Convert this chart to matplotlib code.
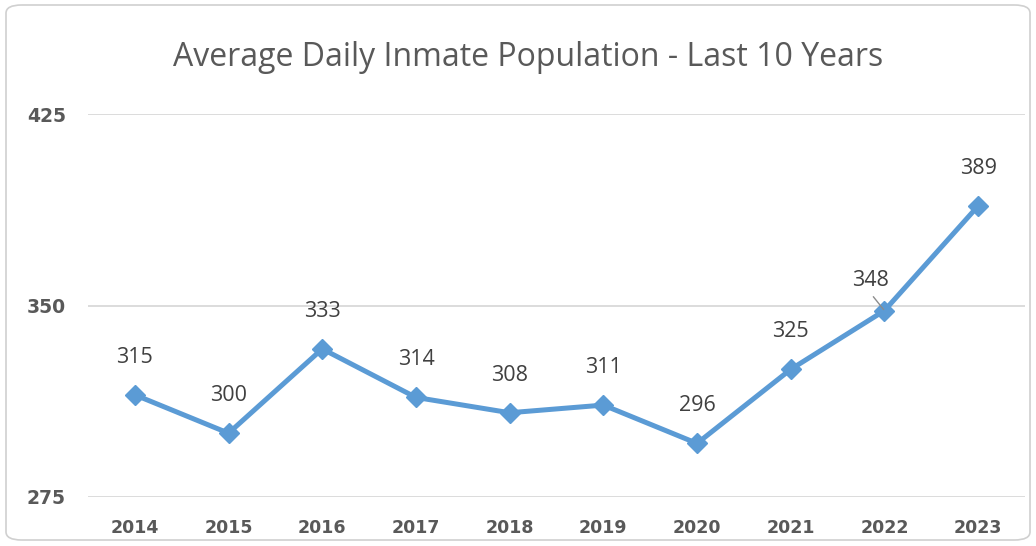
import matplotlib.pyplot as plt
from matplotlib.patches import FancyBboxPatch

years = ["2014", "2015", "2016", "2017", "2018", "2019", "2020", "2021", "2022", "2023"]
population = [315, 300, 333, 314, 308, 311, 296, 325, 348, 389]
yticks = [275, 350, 425]

line_col = "#5B9BD5"
text_col = "#595959"

fig = plt.figure(figsize=(10.36, 5.46), dpi=100)
ax = fig.add_axes([88 / 1036, 49 / 546, 937 / 1036, 383 / 546])

# chart border
border = FancyBboxPatch((6 / 1036, 6 / 546), 1024 / 1036, 535 / 546,
                        boxstyle="round,pad=0,rounding_size=0.015",
                        transform=fig.transFigure, fill=False,
                        edgecolor="#D0D0D0", linewidth=1.2, clip_on=False)
fig.patches.append(border)

x = range(len(years))
ax.plot(x, population, color=line_col, linewidth=3.6, marker="D",
        markersize=10, zorder=3)

for i, v in enumerate(population):
    if years[i] == "2022":
        ax.annotate(str(v), xy=(i, v), xytext=(-10, 22), textcoords="offset points",
                    ha="center", va="center", fontsize=15.5, color="#404040",
                    family="Open Sans")
        # leader line
        ax.annotate("", xy=(i, v), xytext=(-8, 10), textcoords="offset points",
                    arrowprops=dict(arrowstyle="-", color="#8C8C8C", lw=1,
                                    shrinkA=0, shrinkB=1), zorder=4)
    else:
        ax.annotate(str(v), xy=(i, v), xytext=(0, 27), textcoords="offset points",
                    ha="center", va="center", fontsize=15.5, color="#404040",
                    family="Open Sans")

ax.set_xlim(-0.5, len(years) - 0.5)
ax.set_ylim(275, 425)
ax.set_yticks(yticks)
ax.set_xticks(list(x))
ax.set_xticklabels(years)
for lab in ax.get_xticklabels() + ax.get_yticklabels():
    lab.set_fontweight("bold")
    lab.set_color(text_col)
    lab.set_fontsize(12.5)
for lab in ax.get_yticklabels():
    lab.set_fontsize(13.5)
ax.tick_params(length=0)
ax.tick_params(axis="y", pad=16)
ax.tick_params(axis="x", pad=16)
ax.grid(axis="y", color="#D9D9D9", linewidth=1.3)
ax.set_axisbelow(True)
for s in ax.spines.values():
    s.set_visible(False)

fig.text(528 / 1036, 1 - 58 / 546, "Average Daily Inmate Population - Last 10 Years",
         ha="center", va="center", fontsize=23, color=text_col, family="Open Sans")

fig.savefig("out.png", dpi=100)
